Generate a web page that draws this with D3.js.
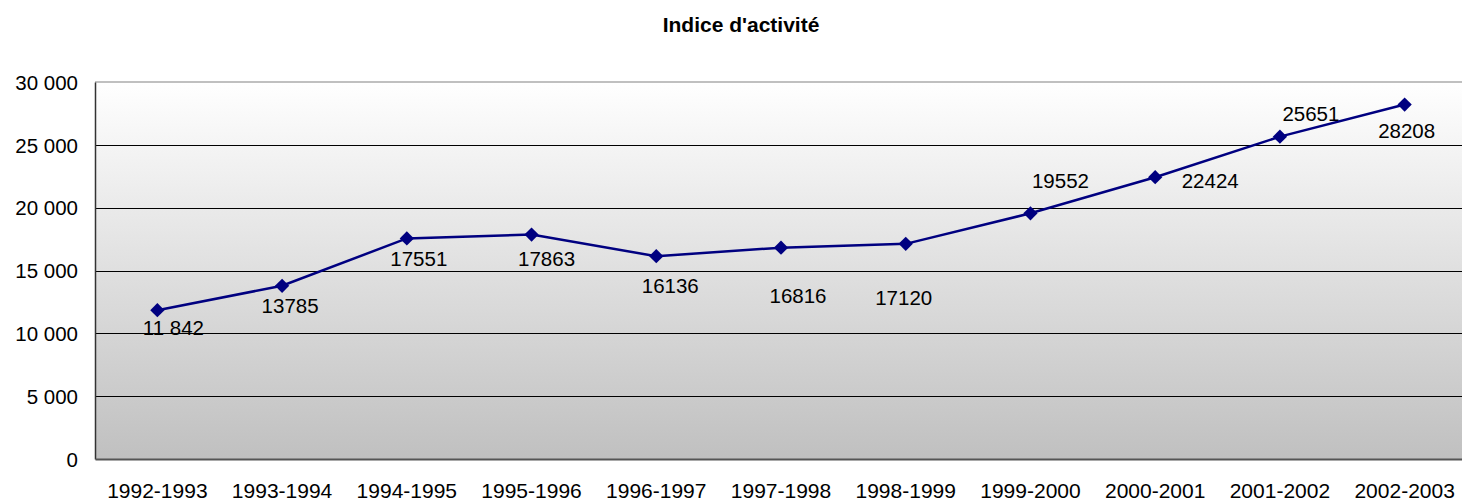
<!DOCTYPE html>
<html>
<head>
<meta charset="utf-8">
<script src="https://cdn.jsdelivr.net/npm/d3@7"></script>
<style>
  body { margin: 0; background: #fff; }
  svg { display: block; font-family: "Liberation Sans", Arial, sans-serif; }
</style>
</head>
<body>
<div id="chart"></div>
<script>
// =====================
// DATA
// =====================
const periods = ["1992-1993", "1993-1994", "1994-1995", "1995-1996", "1996-1997",
  "1997-1998", "1998-1999", "1999-2000", "2000-2001", "2001-2002", "2002-2003"];
const activite = [11842, 13785, 17551, 17863, 16136, 16816, 17120, 19552, 22424, 25651, 28208];
const labelTexts = ["11 842", "13785", "17551", "17863", "16136", "16816", "17120",
  "19552", "22424", "25651", "28208"];
const yTicks = [0, 5000, 10000, 15000, 20000, 25000, 30000];

// =====================
// SVG SETUP
// =====================
const W = 1462, H = 501;
const margin = {top: 82, right: -5, bottom: 42, left: 95};
const width = W - margin.left - margin.right;
const height = H - margin.top - margin.bottom;

const svg = d3.select("#chart").append("svg")
  .attr("width", W)
  .attr("height", H);

const defs = svg.append("defs");
const grad = defs.append("linearGradient")
  .attr("id", "bg")
  .attr("x1", 0).attr("y1", 0).attr("x2", 0).attr("y2", 1);
grad.append("stop").attr("offset", "0%").attr("stop-color", "#ffffff");
grad.append("stop").attr("offset", "100%").attr("stop-color", "#c0c0c0");

// title
svg.append("text")
  .attr("x", 741)
  .attr("y", 32)
  .attr("text-anchor", "middle")
  .style("font-weight", "bold")
  .style("font-size", "21px")
  .text("Indice d'activité");

const g = svg.append("g")
  .attr("transform", `translate(${margin.left},${margin.top})`);

// =====================
// SCALES
// =====================
const x = d3.scaleBand()
  .domain(periods)
  .range([0, width]);

const y = d3.scaleLinear()
  .domain([0, 30000])
  .range([height, 0]);

// background
g.append("rect")
  .attr("width", width)
  .attr("height", height)
  .attr("fill", "url(#bg)");

// top border
g.append("line")
  .attr("x1", 0).attr("x2", width)
  .attr("y1", 0).attr("y2", 0)
  .attr("stroke", "#c0c0c0")
  .attr("stroke-width", 2);

// gridlines
g.append("g")
  .selectAll("line")
  .data(yTicks.filter(d => d > 0 && d < 30000))
  .join("line")
  .attr("x1", 0).attr("x2", width)
  .attr("y1", d => Math.round(y(d)) + 0.5)
  .attr("y2", d => Math.round(y(d)) + 0.5)
  .attr("stroke", "#000")
  .attr("stroke-width", 1);

// =====================
// AXES
// =====================
const fmt = d => d3.format(",")(d).replace(/,/g, " ");

const yAxis = g.append("g")
  .call(d3.axisLeft(y).tickValues(yTicks).tickSize(0).tickPadding(17).tickFormat(fmt));
yAxis.select(".domain").attr("stroke", "#333").attr("stroke-width", 1.5);
yAxis.selectAll("text")
  .style("font-size", "20.5px")
  .style("font-family", "Liberation Sans, Arial, sans-serif")
  .attr("fill", "#000")
  .attr("dy", "0.35em");

const xAxis = g.append("g")
  .attr("transform", `translate(0,${height})`)
  .call(d3.axisBottom(x).tickSize(0).tickPadding(24));
xAxis.select(".domain").attr("stroke", "#555").attr("stroke-width", 2);
xAxis.selectAll("text")
  .style("font-size", "21px")
  .style("font-family", "Liberation Sans, Arial, sans-serif")
  .attr("fill", "#000");

// =====================
// LINE + MARKERS
// =====================
const cx = (d, i) => x(periods[i]) + x.bandwidth() / 2;

g.append("path")
  .datum(activite)
  .attr("fill", "none")
  .attr("stroke", "#000080")
  .attr("stroke-width", 2.5)
  .attr("d", d3.line().x(cx).y(d => y(d)));

g.append("g")
  .selectAll("path")
  .data(activite)
  .join("path")
  .attr("transform", (d, i) => `translate(${cx(d, i)},${y(d)})`)
  .attr("d", d3.symbol(d3.symbolDiamond2, 130))
  .attr("fill", "#000080");

// =====================
// LABELS
// =====================
// label offsets relative to each marker (as placed in the original)
const offsets = [[16, 18], [8, 20], [12, 20], [15, 24], [14, 30], [17, 48], [-2, 54],
  [30, -32], [55, 4], [31, -23], [2, 26]];

g.append("g")
  .selectAll("text")
  .data(activite)
  .join("text")
  .attr("x", (d, i) => cx(d, i) + offsets[i][0])
  .attr("y", (d, i) => y(d) + offsets[i][1])
  .attr("dy", "0.35em")
  .attr("text-anchor", "middle")
  .style("font-size", "20.5px")
  .text((d, i) => labelTexts[i]);
</script>
</body>
</html>
